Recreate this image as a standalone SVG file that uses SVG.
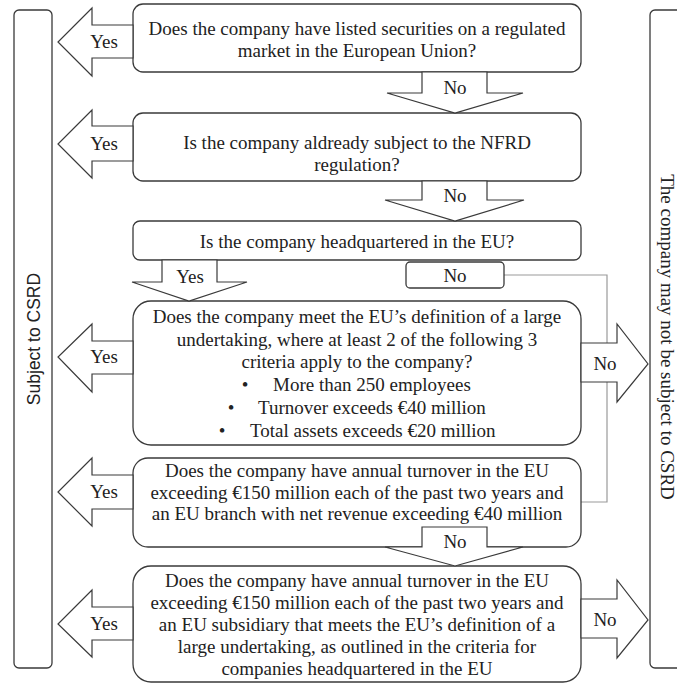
<svg xmlns="http://www.w3.org/2000/svg" width="677" height="683" viewBox="0 0 677 683">
<style>
.box{fill:#fff;stroke:#3a3a3a;stroke-width:1.3}
.arr{fill:#fff;stroke:#3a3a3a;stroke-width:1.2;stroke-linejoin:miter}
.t{font-family:"Liberation Serif","Times New Roman",serif;font-size:19px;fill:#222;text-anchor:middle}
.ts{font-family:"Liberation Serif","Times New Roman",serif;font-size:19px;fill:#222}
.sans{font-family:"Liberation Sans",Arial,sans-serif;font-size:17.5px;fill:#222;text-anchor:middle}
.conn{fill:none;stroke:#9a9a9a;stroke-width:1.2}
</style>
<rect width="677" height="683" fill="#fff"/>

<g id="subject-csrd">
<rect class="box" x="14" y="10" width="38" height="658" rx="5"/>
<text class="sans" transform="translate(34,339) rotate(-90)" dominant-baseline="central">Subject to CSRD</text>
</g>

<g id="not-subject">
<rect class="box" x="650" y="10" width="40" height="658" rx="5"/>
<text class="t" transform="translate(667,337) rotate(90)" dominant-baseline="central">The company may not be subject to CSRD</text>
</g>

<g id="connectors">
<polyline class="conn" points="504,275 607,275 607,502 581,502"/>
<rect class="box" x="406" y="262" width="98" height="26" rx="4"/>
<text class="t" x="455" y="282">No</text>
</g>

<g id="q1">
<rect class="box" x="133" y="4" width="448" height="68" rx="10"/>
<text class="t" x="357" y="35">Does the company have listed securities on a regulated</text>
<text class="t" x="357" y="57">market in the European Union?</text>
</g>

<g id="q2">
<rect class="box" x="133" y="113" width="448" height="68" rx="10"/>
<text class="t" x="357" y="149">Is the company aldready subject to the NFRD</text>
<text class="t" x="357" y="171">regulation?</text>
</g>

<g id="q3">
<rect class="box" x="133" y="221" width="448" height="39" rx="7"/>
<text class="t" x="357" y="248">Is the company headquartered in the EU?</text>
</g>

<g id="q4">
<rect class="box" x="133" y="301" width="448" height="144" rx="18"/>
<text class="t" x="357" y="323">Does the company meet the EU’s definition of a large</text>
<text class="t" x="357" y="346">undertaking, where at least 2 of the following 3</text>
<text class="t" x="357" y="368">criteria apply to the company?</text>
<text class="t" x="245" y="391">•</text><text class="ts" x="273" y="391">More than 250 employees</text>
<text class="t" x="231" y="414">•</text><text class="ts" x="258" y="414">Turnover exceeds €40 million</text>
<text class="t" x="222" y="437">•</text><text class="ts" x="250" y="437">Total assets exceeds €20 million</text>
</g>

<g id="q5">
<rect class="box" x="133" y="458" width="448" height="89" rx="15"/>
<text class="t" x="357" y="477">Does the company have annual turnover in the EU</text>
<text class="t" x="357" y="498.5">exceeding €150 million each of the past two years and</text>
<text class="t" x="357" y="520">an EU branch with net revenue exceeding €40 million</text>
</g>

<g id="q6">
<rect class="box" x="133" y="566" width="448" height="116" rx="18"/>
<text class="t" x="357" y="587">Does the company have annual turnover in the EU</text>
<text class="t" x="357" y="609">exceeding €150 million each of the past two years and</text>
<text class="t" x="357" y="631">an EU subsidiary that meets the EU’s definition of a</text>
<text class="t" x="357" y="653">large undertaking, as outlined in the criteria for</text>
<text class="t" x="357" y="675">companies headquartered in the EU</text>
</g>

<g id="arrows">
<polygon class="arr" points="133,25 92,25 92,8 58,42 92,76 92,58 133,58"/>
<text class="t" x="104" y="48">Yes</text>
<polygon class="arr" points="133,126 92,126 92,110 58,144 92,178 92,161 133,161"/>
<text class="t" x="104" y="150">Yes</text>
<polygon class="arr" points="133,341 92,341 92,324 58,357 92,392 92,374 133,374"/>
<text class="t" x="104" y="363">Yes</text>
<polygon class="arr" points="133,475 92,475 92,458 58,492 92,526 92,509 133,509"/>
<text class="t" x="104" y="498">Yes</text>
<polygon class="arr" points="133,607 92,607 92,590 58,624 92,657 92,640 133,640"/>
<text class="t" x="104" y="630">Yes</text>
<polygon class="arr" points="422,72 422,93 387,93 455,113 523,93 487,93 487,72"/>
<text class="t" x="455" y="94">No</text>
<polygon class="arr" points="422,181 422,200 385,200 455,221 524,200 487,200 487,181"/>
<text class="t" x="455" y="202">No</text>
<polygon class="arr" points="422,527 422,547 385,547 455,566 523,547 487,547 487,527"/>
<text class="t" x="455" y="548">No</text>
<polygon class="arr" points="162,260 162,282 132,282 189,301 247,282 217,282 217,260"/>
<text class="t" x="190" y="283">Yes</text>
<polygon class="arr" points="581,343 617,343 617,324 648,364 617,402 617,382 581,382"/>
<text class="t" x="605" y="370">No</text>
<polygon class="arr" points="581,599 617,599 617,580 648,620 617,658 617,638 581,638"/>
<text class="t" x="605" y="626">No</text>
</g>
</svg>
